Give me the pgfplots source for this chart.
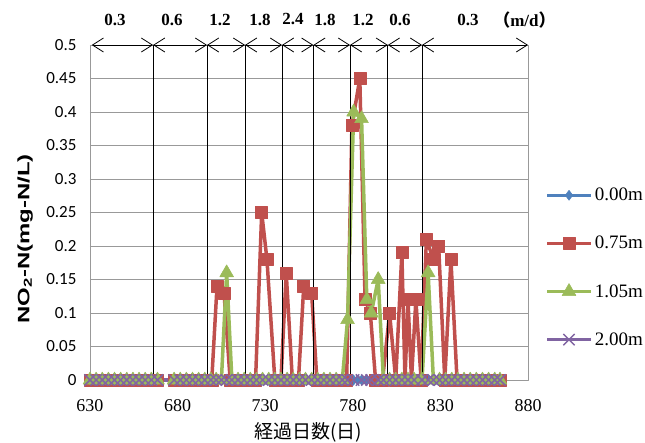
\documentclass[border=0pt]{standalone}
\usepackage{fontspec}
\setmainfont{Liberation Serif}
\newfontfamily\carl{Carlito}
\newfontfamily\cjk{Noto Sans CJK JP}
\newfontfamily\ylabfont[FakeStretch=1.45]{Liberation Sans}
\usepackage{pgfplots}
\pgfplotsset{compat=1.18}
\usetikzlibrary{arrows.meta}
\definecolor{xlblue}{HTML}{4F81BD}
\definecolor{xlred}{HTML}{C0504D}
\definecolor{xlgreen}{HTML}{9BBB59}
\definecolor{xlpurple}{HTML}{8064A2}
\pgfplotsset{mylegimg/.style={legend image code/.code={\draw[mark repeat=2,mark phase=2,##1] plot coordinates {(0bp,0bp) (22bp,0bp) (44bp,0bp)};}}}
\tikzset{seg/.style={{Straight Barb[length=11bp,width=14bp]}-{Straight Barb[length=11bp,width=14bp]}, line width=0.8bp, black}}
\begin{document}
\begin{tikzpicture}
\useasboundingbox (-90bp,-63bp) rectangle (555bp,380bp);
\begin{axis}[
 scale only axis, width=438bp, height=335bp,
 at={(0,0)}, anchor=south west,
 xmin=630,xmax=880,ymin=0,ymax=0.5,
 xtick={630,680,730,780,830,880},
 ytick={0,0.05,0.1,0.15,0.2,0.25,0.3,0.35,0.4,0.45,0.5},
 ymajorgrids, grid style={gray!80, line width=0.8bp},
 axis line style={gray!80, line width=0.8bp},
 major tick length=0pt,
 /pgf/number format/assume math mode=true,
 xticklabel style={font=\fontsize{18bp}{20bp}\selectfont, yshift=-16bp},
 yticklabel style={font=\carl\fontsize{17bp}{19bp}\selectfont, xshift=-10bp, /pgf/number format/fixed, /pgf/number format/precision=2},
 xlabel={\cjk 経過日数(日)},
 xlabel style={font=\fontsize{19bp}{21bp}\selectfont, at={(axis description cs:0.498,-0.157)}, anchor=center},
 ylabel={\ylabfont\bfseries NO\textsubscript{2}-N(mg-N/L)},
 ylabel style={font=\fontsize{16.5bp}{18bp}\selectfont, at={(axis description cs:-0.148,0.421)}, anchor=center},
 clip=false,
 unbounded coords=jump,
 legend style={draw=none, fill=none, at={(axis description cs:1.039,0.336)}, anchor=west, font=\fontsize{19bp}{21bp}\selectfont, row sep=30bp, inner sep=0pt, cells={anchor=west}},
 mylegimg,
 line join=round,
]
% 0.00m
\addplot[xlblue, line width=3.5bp, mark=diamond*, mark size=5bp, mark options={solid, line width=0.5bp, fill=xlblue}] coordinates {
(630,0)(633.5,0)(637,0)(640.5,0)(644,0)(647.5,0)(651,0)(654.5,0)(658,0)(661.5,0)(665,0)(668.5,0)(673,nan)
(678,0)(681.5,0)(685,0)(688.5,0)(692,0)(695.5,0)(699,0)(702,0)(705,0)(708,0)(711,0)(714.5,0)(718,0)(721.5,0)(725,0)(728.5,0)(732,0)(735.5,0)(739,0)(742.5,0)(746,0)(749.5,0)(753,0)(756.5,0)(760,0)(763.5,0)(767,0)(770.5,0)(774,0)(777,0)(780.5,0)(783,0)(785,0)(788,0)(790.5,0)(794.5,0)(797.5,0)(801,0)(804.5,0)(808,0)(811.5,0)(815,0)(819.5,0)(823,0)(826,0)(829.5,0)(833,0)(836.5,0)(840,0)(843.5,0)(847,0)(850.5,0)(854,0)(857.5,0)(861,0)(864,0)
};
\addlegendentry{0.00m}
% 0.75m
\addplot[xlred, line width=3.5bp, mark=square*, mark size=6bp, mark options={solid, line width=0.5bp, fill=xlred}] coordinates {
(630,0)(633.5,0)(637,0)(640.5,0)(644,0)(647.5,0)(651,0)(654.5,0)(658,0)(661.5,0)(665,0)(668.5,0)(673,nan)
(678,0)(681.5,0)(685,0)(688.5,0)(692,0)(695.5,0)(699.5,0)(702.5,0.14)(706.5,0.13)(710,0)(713.5,0)(717,0)(720.5,0)(724.5,0)
(728,0.25)(731,0.18)(735.5,0)(739,0)(742,0.16)(745.5,0)(749,0)(752,0.14)(756.5,0.13)(759.5,0)(763,0)(766.5,0)(770,0)(773.5,0)(776.5,0)
(779.5,0.38)(784,0.45)(787,0.12)(790,0.10)(793,0)(797,0)(801,0.10)(804.5,0)(808,0.19)(809.8,0)(811.5,0.12)(813.5,0)(816,0.12)(819,0)
(822,0.21)(826,0.18)(829,0.20)(832.5,0)(836,0.18)(839.5,0)(843.5,0)(847,0)(850.5,0)(854,0)(857.5,0)(861,0)(864,0)
};
\addlegendentry{0.75m}
% 1.05m
\addplot[xlgreen, line width=3.5bp, mark=triangle*, mark size=8bp, mark options={solid, line width=0.5bp, fill=xlgreen}] coordinates {
(630,0)(633.5,0)(637,0)(640.5,0)(644,0)(647.5,0)(651,0)(654.5,0)(658,0)(661.5,0)(665,0)(668.5,0)(673,nan)
(678,0)(681.5,0)(685,0)(688.5,0)(692,0)(695.5,0)(699,0)(702,0)(705,0)(708,0.16)(711,0)(714.5,0)(718,0)(721.5,0)(725,0)(728.5,0)(732,0)(735.5,0)(739,0)(742.5,0)(746,0)(749.5,0)(753,0)(756.5,0)(760,0)(763.5,0)(767,0)(770.5,0)(774,0)
(777,0.09)(780.5,0.40)(785,0.39)(788,0.12)(790.5,0.10)(794.5,0.15)(797.5,0)(801,0)(804.5,0)(808,0)(811.5,0)(815,0)(819.5,0)(823,0.16)(826,0)(829.5,0)(833,0)(836.5,0)(840,0)(843.5,0)(847,0)(850.5,0)(854,0)(857.5,0)(861,0)(864,0)
};
\addlegendentry{1.05m}
% 2.00m
\addplot[xlpurple, line width=3.5bp, mark=x, mark size=8bp, mark options={solid, line width=1.5bp}] coordinates {
(630,0)(633.5,0)(637,0)(640.5,0)(644,0)(647.5,0)(651,0)(654.5,0)(658,0)(661.5,0)(665,0)(668.5,0)
(678,0)(681.5,0)(685,0)(688.5,0)(692,0)(695.5,0)(699,0)(702,0)(705,0)(708,0)(711,0)(714.5,0)(718,0)(721.5,0)(725,0)(728.5,0)(732,0)(735.5,0)(739,0)(742.5,0)(746,0)(749.5,0)(753,0)(756.5,0)(760,0)(763.5,0)(767,0)(770.5,0)(774,0)(777,0)(780.5,0)(785,0)(788,0)(790.5,0)(794.5,0)(797.5,0)(801,0)(804.5,0)(808,0)(811.5,0)(815,0)(819.5,0)(823,0)(826,0)(829.5,0)(833,0)(836.5,0)(840,0)(843.5,0)(847,0)(850.5,0)(854,0)(857.5,0)(861,0)(864,0)
};
\addlegendentry{2.00m}
% flow-rate periods
\draw[black, line width=0.8bp] (axis cs:666,0) -- (axis cs:666,0.5);
\draw[black, line width=0.8bp] (axis cs:696.8,0) -- (axis cs:696.8,0.5);
\draw[black, line width=0.8bp] (axis cs:718.5,0) -- (axis cs:718.5,0.5);
\draw[black, line width=0.8bp] (axis cs:739.6,0) -- (axis cs:739.6,0.5);
\draw[black, line width=0.8bp] (axis cs:757.5,0) -- (axis cs:757.5,0.5);
\draw[black, line width=0.8bp] (axis cs:778.4,0) -- (axis cs:778.4,0.5);
\draw[black, line width=0.8bp] (axis cs:800,0) -- (axis cs:800,0.5);
\draw[black, line width=0.8bp] (axis cs:819.5,0) -- (axis cs:819.5,0.5);
\draw[seg] (axis cs:631,0.5) -- (axis cs:666,0.5);
\draw[seg] (axis cs:666,0.5) -- (axis cs:696.8,0.5);
\draw[seg] (axis cs:696.8,0.5) -- (axis cs:718.5,0.5);
\draw[seg] (axis cs:718.5,0.5) -- (axis cs:739.6,0.5);
\draw[seg] (axis cs:739.6,0.5) -- (axis cs:757.5,0.5);
\draw[seg] (axis cs:757.5,0.5) -- (axis cs:778.4,0.5);
\draw[seg] (axis cs:778.4,0.5) -- (axis cs:800,0.5);
\draw[seg] (axis cs:800,0.5) -- (axis cs:819.5,0.5);
\draw[seg] (axis cs:819.5,0.5) -- (axis cs:880,0.5);
\begin{scope}[every node/.style={font=\bfseries\fontsize{17bp}{19bp}\selectfont}]
\node at (axis cs:644.3,0.537) {0.3};
\node at (axis cs:676.8,0.537) {0.6};
\node at (axis cs:704.2,0.537) {1.2};
\node at (axis cs:727,0.537) {1.8};
\node at (axis cs:745.9,0.539) {2.4};
\node at (axis cs:764.1,0.537) {1.8};
\node at (axis cs:785.8,0.537) {1.2};
\node at (axis cs:806.9,0.537) {0.6};
\node at (axis cs:845.8,0.537) {0.3};
\node at (axis cs:878,0.537) {{\cjk （}m/d{\cjk ）}};
\end{scope}
\end{axis}
\end{tikzpicture}
\end{document}
